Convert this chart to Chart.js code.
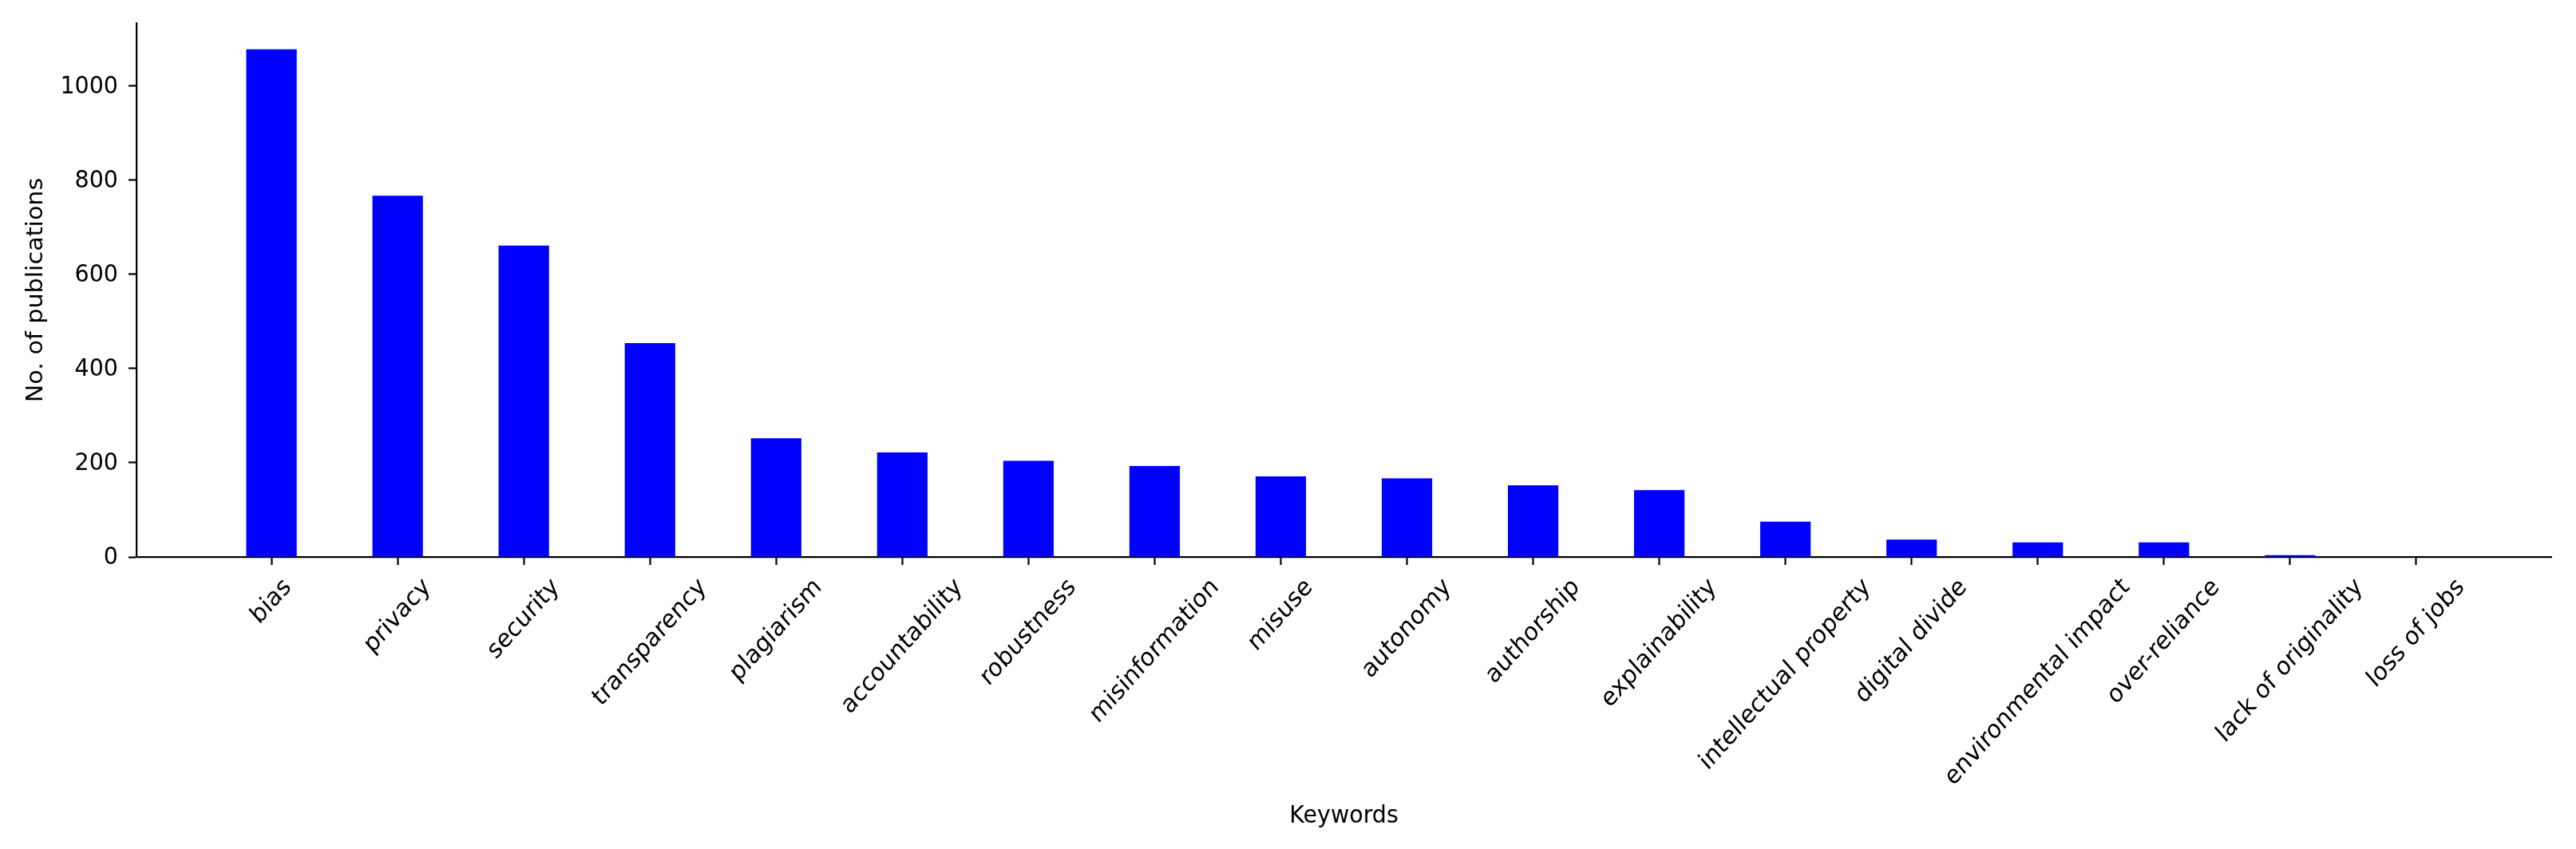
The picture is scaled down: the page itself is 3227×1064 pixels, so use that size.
<!DOCTYPE html>
<html lang="en">
<head>
<meta charset="utf-8">
<title>Publications per keyword</title>
<script src="https://cdn.jsdelivr.net/npm/chart.js@4/dist/chart.umd.min.js"></script>
<style>
  html, body { margin: 0; padding: 0; background: #ffffff; }
  #keywordChart { display: block; }
</style>
</head>
<body>
<canvas id="keywordChart" width="3227" height="1064"></canvas>
<script>
/* =============================================
   Publications per ethics keyword — bar chart
   Vanilla JS | Chart.js v4
   ============================================= */

// ── Data ────────────────────────────────────────────────────────────────────
const keywords = [
  'bias', 'privacy', 'security', 'transparency', 'plagiarism',
  'accountability', 'robustness', 'misinformation', 'misuse', 'autonomy',
  'authorship', 'explainability', 'intellectual property', 'digital divide',
  'environmental impact', 'over-reliance', 'lack of originality', 'loss of jobs',
];
const publicationCounts = [
  1078, 767, 661, 454, 252,
  222, 204, 193, 171, 167,
  152, 142, 75, 37,
  31, 31, 4, 0,
];
const yTickValues = [0, 200, 400, 600, 800, 1000];

const X_TITLE = 'Keywords';
const Y_TITLE = 'No. of publications';

// ── Look ────────────────────────────────────────────────────────────────────
const FONT_FAMILY = '"DejaVu Sans", Verdana, sans-serif';
const FONT_SIZE   = 28.5;
const BAR_COLOR   = '#0000ff';
const AXIS_COLOR  = '#000000';
const TICK_LEN    = 10;
const TICK_PAD    = 10;
const LINE_W      = 2.2;
// the source picture is a little taller than wide, text included
const STRETCH_X_LABELS = 1.12;
const STRETCH_Y_TITLE  = 1.06;
const STRETCH_TEXT     = 1.08;

// matplotlib-like x limits: bar edges plus 5% margin
const BAR_WIDTH = 0.4;
const span      = (keywords.length - 1) + BAR_WIDTH;
const xMin      = -BAR_WIDTH / 2 - span * 0.05;
const xMax      = keywords.length - 1 + BAR_WIDTH / 2 + span * 0.05;
const yMax      = 1133.3;

/** fillText with a vertical stretch around (x, y) */
function stretchedText(ctx, text, x, y, k) {
  ctx.save();
  ctx.translate(x, y);
  ctx.scale(1, k);
  ctx.fillText(text, 0, 0);
  ctx.restore();
}

/** Draw all the text (tick labels and axis titles) the matplotlib way */
const axisTextPlugin = {
  id: 'axisText',
  afterDraw(chart) {
    const { ctx, chartArea, scales } = chart;
    const lineH = FONT_SIZE * 1.164;
    ctx.save();
    ctx.fillStyle = AXIS_COLOR;
    ctx.font = `${FONT_SIZE}px ${FONT_FAMILY}`;

    // y tick labels, right aligned left of the ticks
    ctx.textAlign = 'right';
    ctx.textBaseline = 'middle';
    yTickValues.forEach(v => {
      const y = scales.y.getPixelForValue(v);
      stretchedText(ctx, String(v), chartArea.left - TICK_LEN - TICK_PAD - 3, y + 1, STRETCH_TEXT);
    });

    // x tick labels, rotated 45°, box centred under the tick
    const top = chartArea.bottom + TICK_LEN + TICK_PAD;
    keywords.forEach((label, i) => {
      const x = scales.x.getPixelForValue(i);
      const w = ctx.measureText(label).width;
      const cy = top + STRETCH_X_LABELS * (w + lineH) / (2 * Math.SQRT2);
      ctx.save();
      ctx.translate(x, cy);
      ctx.scale(1, STRETCH_X_LABELS);
      ctx.rotate(-Math.PI / 4);
      ctx.textAlign = 'center';
      ctx.textBaseline = 'middle';
      ctx.fillText(label, 0, 0);
      ctx.restore();
    });

    // x title
    ctx.textAlign = 'center';
    ctx.textBaseline = 'alphabetic';
    stretchedText(ctx, X_TITLE, (chartArea.left + chartArea.right) / 2, 1031, STRETCH_TEXT);

    // y title
    ctx.save();
    ctx.translate(46, (chartArea.top + chartArea.bottom) / 2);
    ctx.scale(1, STRETCH_Y_TITLE);
    ctx.rotate(-Math.PI / 2);
    ctx.textAlign = 'center';
    ctx.textBaseline = 'middle';
    ctx.fillText(Y_TITLE, 0, 0);
    ctx.restore();

    ctx.restore();
  },
};

// ── Chart ───────────────────────────────────────────────────────────────────
const ctx = document.getElementById('keywordChart').getContext('2d');

const axisLook = {
  z: 1,
  grid: {
    display: true,
    drawOnChartArea: false,
    drawTicks: true,
    tickLength: TICK_LEN,
    tickWidth: LINE_W,
    tickColor: AXIS_COLOR,
    offset: false,
  },
  border: { display: true, color: AXIS_COLOR, width: LINE_W },
  ticks: { display: false },
};

const chartInstance = new Chart(ctx, {
  type: 'bar',
  data: {
    datasets: [{
      data: keywords.map((k, i) => ({ x: i, y: publicationCounts[i] })),
      backgroundColor: BAR_COLOR,
      borderWidth: 0,
      barPercentage: BAR_WIDTH,
      categoryPercentage: 1.0,
    }],
  },
  options: {
    responsive: false,
    animation: false,
    devicePixelRatio: 1,
    layout: { padding: { left: 171 - TICK_LEN, right: 31, top: 29, bottom: 1064 - 698 - TICK_LEN } },
    plugins: {
      legend: { display: false },
      tooltip: { enabled: false },
    },
    scales: {
      x: {
        ...axisLook,
        type: 'linear',
        offset: false,
        min: xMin,
        max: xMax,
        afterBuildTicks: axis => { axis.ticks = keywords.map((k, i) => ({ value: i })); },
      },
      y: {
        ...axisLook,
        min: 0,
        max: yMax,
        afterBuildTicks: axis => { axis.ticks = yTickValues.map(v => ({ value: v })); },
      },
    },
  },
  plugins: [axisTextPlugin],
});
</script>
</body>
</html>
